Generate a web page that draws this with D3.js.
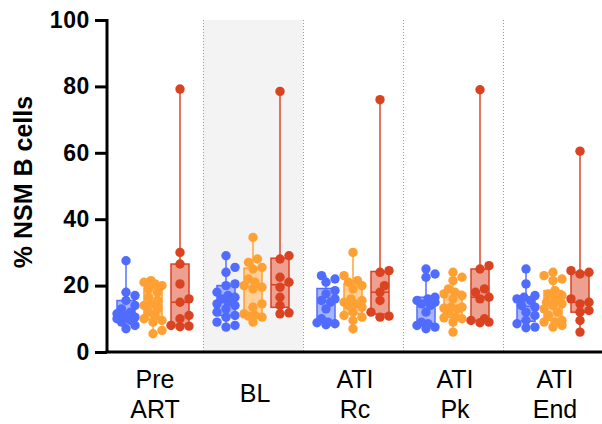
<!DOCTYPE html>
<html>
<head>
<meta charset="utf-8">
<script src="https://cdn.jsdelivr.net/npm/d3@7"></script>
<style>
  body { margin: 0; background: #fff; }
  text { font-family: "Liberation Sans", Arial, sans-serif; }
</style>
</head>
<body>
<svg id="chart" width="602" height="424"></svg>
<script>
// Группы по оси X
const groups = ["Pre ART", "BL", "ATI Rc", "ATI Pk", "ATI End"];
const groupLabels = [["Pre", "ART"], ["BL"], ["ATI", "Rc"], ["ATI", "Pk"], ["ATI", "End"]];
const yTicks = [0, 20, 40, 60, 80, 100];

// Значения по сериям (синяя, оранжевая, красная) для каждой группы
const blue = [
  [27.5, 18, 17, 15.5, 14, 13, 12, 11.5, 11, 10.5, 10, 9.5, 9, 8, 7],
  [29, 25.5, 24, 20.5, 20, 18, 17, 16.5, 16, 15, 14.5, 14, 13, 12, 11, 10.5, 9, 8, 7.5],
  [23, 22, 21, 18.5, 17.5, 16, 15.5, 15, 13, 10, 9, 8.8, 8.5, 8.2],
  [25, 23.5, 22.5, 16.5, 16, 15.5, 15, 14.5, 14, 12, 9, 8.5, 8, 7.5, 7],
  [25, 20.5, 17, 16.5, 16, 15.5, 14, 13.5, 12, 11, 9.5, 8.5, 7.5, 7.3]
];
const orange = [
  [21.5, 21, 20.5, 20, 19, 18, 16.5, 15.5, 14.5, 14, 13, 12, 11, 10, 9.5, 9, 6.5, 5.5],
  [34.5, 28, 27, 25.5, 25, 22, 21, 20, 19.5, 19, 14.5, 13.5, 11.5, 11, 10.8, 10.5, 9],
  [30, 23, 21.5, 21, 20, 19, 16, 15.5, 15, 14.5, 14, 13.5, 12, 11, 10.5, 9.5, 7],
  [24, 22.5, 21.5, 19, 18, 17.5, 17, 16, 13.5, 13.5, 13.2, 13, 12, 10.5, 10.3, 10, 9, 6],
  [24, 23, 22, 21.5, 18.5, 17.5, 17, 16, 15, 14.5, 14, 13, 12, 11, 9, 9.5, 9, 8, 7.5]
];
const red = [
  [79.2, 30, 26.5, 20.5, 16, 15, 11, 10, 8, 7.8, 7.6],
  [78.5, 29, 28, 22.5, 21, 19.5, 16.5, 14, 11.8, 11.5],
  [76, 24.5, 24, 20, 18, 15.5, 12, 10.8, 10.5],
  [79, 26, 25, 19, 18, 16.5, 16, 10, 9.5, 9, 8.8],
  [60.5, 24.5, 24, 23.5, 16, 15, 14.5, 12.5, 12, 9.5, 6]
];

const series = [
  { values: blue,   color: "#506cff", fill: "#a8b5ff" },
  { values: orange, color: "#ffa033", fill: "#ffcf99" },
  { values: red,    color: "#db4220", fill: "#eda090" }
];

const svg = d3.select("#chart");

// Шкалы
const x = d3.scaleBand().domain(groups).range([103, 603]);
const y = d3.scaleLinear().domain([0, 100]).range([352, 20]);
const offset = d3.scaleOrdinal().domain([0, 1, 2]).range([-27, 0, 27]);
const boxW = 18, r = 4.7;

// Квартиль как в GraphPad: позиция p*(n+1)
function quart(sorted, p) {
  const n = sorted.length;
  let pos = p * (n + 1);
  if (pos < 1) pos = 1;
  if (pos > n) pos = n;
  const i = Math.floor(pos), f = pos - i;
  if (i >= n) return sorted[n - 1];
  return sorted[i - 1] + f * (sorted[i] - sorted[i - 1]);
}

// Серый фон для BL
svg.append("rect")
  .attr("x", x("BL")).attr("y", y(100))
  .attr("width", x.bandwidth()).attr("height", y(0) - y(100))
  .attr("fill", "#f3f3f3");

// Пунктирные разделители групп
svg.selectAll(".sep")
  .data(groups.slice(1))
  .enter().append("line")
  .attr("x1", d => x(d) + 0.5).attr("x2", d => x(d) + 0.5)
  .attr("y1", y(100)).attr("y2", y(0))
  .attr("stroke", "#999").attr("stroke-width", 1)
  .attr("stroke-dasharray", "1,2");

// Простое раскладывание точек без наложений
function swarm(vals) {
  const placed = [];
  const sorted = vals.slice().sort((a, b) => a - b);
  const steps = [0, 4.5, -4.5, 9, -9, 2, -2, 6.5, -6.5];
  sorted.forEach(v => {
    const py = y(v);
    let best = 0, bestOverlap = Infinity;
    for (const s of steps) {
      let ov = 0;
      placed.forEach(p => {
        const d = Math.hypot(p.dx - s, p.py - py);
        if (d < r * 1.5) ov += r * 1.5 - d;
      });
      if (ov < bestOverlap) { bestOverlap = ov; best = s; }
      if (ov === 0) break;
    }
    placed.push({ v: v, py: py, dx: best });
  });
  return placed;
}

// Боксы, усы и точки
series.forEach((s, si) => {
  s.values.forEach((vals, gi) => {
    const cx = x(groups[gi]) + x.bandwidth() / 2 + offset(si);
    const sorted = vals.slice().sort(d3.ascending);
    const q1 = quart(sorted, 0.25);
    const med = quart(sorted, 0.5);
    const q3 = quart(sorted, 0.75);
    const g = svg.append("g");

    g.append("line")
      .attr("x1", cx).attr("x2", cx)
      .attr("y1", y(d3.max(vals))).attr("y2", y(d3.min(vals)))
      .attr("stroke", s.color).attr("stroke-width", 1.8)
      .attr("stroke-opacity", 0.8);

    g.append("rect")
      .attr("x", cx - boxW / 2).attr("y", y(q3))
      .attr("width", boxW).attr("height", y(q1) - y(q3))
      .attr("fill", s.fill).attr("stroke", s.color).attr("stroke-width", 1.5);

    g.append("line")
      .attr("x1", cx - boxW / 2).attr("x2", cx + boxW / 2)
      .attr("y1", y(med)).attr("y2", y(med))
      .attr("stroke", s.color).attr("stroke-width", 1.5);

    g.selectAll("circle")
      .data(swarm(vals))
      .enter().append("circle")
      .attr("cx", d => cx + d.dx)
      .attr("cy", d => d.py)
      .attr("r", r)
      .attr("fill", s.color);
  });
});

// Ось Y
const yAxis = svg.append("g")
  .attr("transform", "translate(107,0)")
  .attr("font-size", 23)
  .attr("font-weight", "bold")
  .attr("font-family", "'Liberation Sans', Arial, sans-serif")
  .call(d3.axisLeft(y).tickValues(yTicks).tickSize(12).tickPadding(5));
yAxis.select(".domain").attr("stroke", "#000").attr("stroke-width", 3)
  .attr("d", "M0," + (y(100) - 1) + "V" + y(0));
yAxis.selectAll(".tick line").attr("stroke", "#000").attr("stroke-width", 3);
yAxis.selectAll(".tick text")
  .attr("fill", "#000")
  .attr("font-size", 23)
  .style("font-size", "23px")
  .style("letter-spacing", "0.6px");

// Ось X
svg.append("line")
  .attr("x1", 105.5).attr("x2", 602)
  .attr("y1", y(0)).attr("y2", y(0))
  .attr("stroke", "#000").attr("stroke-width", 3);

// Подписи групп
svg.selectAll(".xlab")
  .data(groups)
  .enter().append("text")
  .attr("text-anchor", "middle")
  .attr("font-size", 25)
  .attr("fill", "#000")
  .each(function (d, i) {
    const lines = groupLabels[i];
    const cx = x(d) + x.bandwidth() / 2 + 2;
    const t = d3.select(this);
    if (lines.length === 1) {
      t.append("tspan").attr("x", cx).attr("y", 402).text(lines[0]);
    } else {
      lines.forEach((l, k) => {
        t.append("tspan").attr("x", cx).attr("y", 388 + k * 30).text(l);
      });
    }
  });

// Заголовок оси Y
svg.append("text")
  .attr("transform", "translate(32,182) rotate(-90)")
  .attr("text-anchor", "middle")
  .attr("font-size", 25)
  .attr("font-weight", "bold")
  .attr("fill", "#000")
  .text("% NSM B cells");
</script>
</body>
</html>
